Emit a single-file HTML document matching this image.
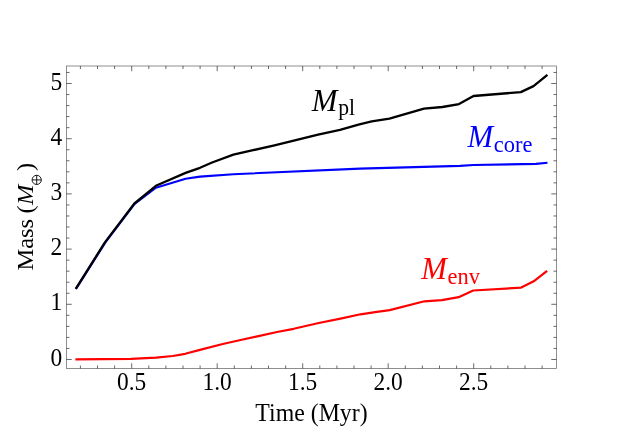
<!DOCTYPE html>
<html><head><meta charset="utf-8"><title>Mass vs Time</title>
<style>
html,body{margin:0;padding:0;background:#fff;}
body{width:623px;height:435px;overflow:hidden;font-family:"Liberation Serif",serif;}
svg{display:block;will-change:transform;}
svg text{font-family:"Liberation Serif",serif;}
</style></head><body>
<svg width="623" height="435" viewBox="0 0 623 435">
<rect width="623" height="435" fill="#fff"/>
<rect x="66.5" y="66.0" width="490.0" height="302.5" fill="none" stroke="#6a6a6a" stroke-width="0.75"/>
<path d="M80.40,368.5 v-3.0 M80.40,66.0 v3.0 M97.50,368.5 v-3.0 M97.50,66.0 v3.0 M114.60,368.5 v-3.0 M114.60,66.0 v3.0 M131.70,368.5 v-5.2 M131.70,66.0 v5.2 M148.80,368.5 v-3.0 M148.80,66.0 v3.0 M165.90,368.5 v-3.0 M165.90,66.0 v3.0 M183.00,368.5 v-3.0 M183.00,66.0 v3.0 M200.10,368.5 v-3.0 M200.10,66.0 v3.0 M217.20,368.5 v-5.2 M217.20,66.0 v5.2 M234.30,368.5 v-3.0 M234.30,66.0 v3.0 M251.40,368.5 v-3.0 M251.40,66.0 v3.0 M268.50,368.5 v-3.0 M268.50,66.0 v3.0 M285.60,368.5 v-3.0 M285.60,66.0 v3.0 M302.70,368.5 v-5.2 M302.70,66.0 v5.2 M319.80,368.5 v-3.0 M319.80,66.0 v3.0 M336.90,368.5 v-3.0 M336.90,66.0 v3.0 M354.00,368.5 v-3.0 M354.00,66.0 v3.0 M371.10,368.5 v-3.0 M371.10,66.0 v3.0 M388.20,368.5 v-5.2 M388.20,66.0 v5.2 M405.30,368.5 v-3.0 M405.30,66.0 v3.0 M422.40,368.5 v-3.0 M422.40,66.0 v3.0 M439.50,368.5 v-3.0 M439.50,66.0 v3.0 M456.60,368.5 v-3.0 M456.60,66.0 v3.0 M473.70,368.5 v-5.2 M473.70,66.0 v5.2 M490.80,368.5 v-3.0 M490.80,66.0 v3.0 M507.90,368.5 v-3.0 M507.90,66.0 v3.0 M525.00,368.5 v-3.0 M525.00,66.0 v3.0 M542.10,368.5 v-3.0 M542.10,66.0 v3.0 M66.5,359.50 h5.2 M556.5,359.50 h-5.2 M66.5,348.46 h3.0 M556.5,348.46 h-3.0 M66.5,337.42 h3.0 M556.5,337.42 h-3.0 M66.5,326.38 h3.0 M556.5,326.38 h-3.0 M66.5,315.34 h3.0 M556.5,315.34 h-3.0 M66.5,304.30 h5.2 M556.5,304.30 h-5.2 M66.5,293.26 h3.0 M556.5,293.26 h-3.0 M66.5,282.22 h3.0 M556.5,282.22 h-3.0 M66.5,271.18 h3.0 M556.5,271.18 h-3.0 M66.5,260.14 h3.0 M556.5,260.14 h-3.0 M66.5,249.10 h5.2 M556.5,249.10 h-5.2 M66.5,238.06 h3.0 M556.5,238.06 h-3.0 M66.5,227.02 h3.0 M556.5,227.02 h-3.0 M66.5,215.98 h3.0 M556.5,215.98 h-3.0 M66.5,204.94 h3.0 M556.5,204.94 h-3.0 M66.5,193.90 h5.2 M556.5,193.90 h-5.2 M66.5,182.86 h3.0 M556.5,182.86 h-3.0 M66.5,171.82 h3.0 M556.5,171.82 h-3.0 M66.5,160.78 h3.0 M556.5,160.78 h-3.0 M66.5,149.74 h3.0 M556.5,149.74 h-3.0 M66.5,138.70 h5.2 M556.5,138.70 h-5.2 M66.5,127.66 h3.0 M556.5,127.66 h-3.0 M66.5,116.62 h3.0 M556.5,116.62 h-3.0 M66.5,105.58 h3.0 M556.5,105.58 h-3.0 M66.5,94.54 h3.0 M556.5,94.54 h-3.0 M66.5,83.50 h5.2 M556.5,83.50 h-5.2 M66.5,72.46 h3.0 M556.5,72.46 h-3.0" stroke="#2a2a2a" stroke-width="0.7" fill="none"/>
<path d="M76.0,288.9 L105.4,242.4 L134.6,203.9 L155.9,187.7 L185.6,178.8 L200.0,176.6 L233.4,174.2 L360.0,168.6 L460.0,165.9 L473.5,165.0 L536.0,163.9 L547.5,162.8" stroke="#0000ff" stroke-width="2.1" fill="none" stroke-linejoin="round"/>
<path d="M75.7,288.9 L105.1,242.1 L134.4,203.5 L155.9,185.8 L185.6,172.9 L200.0,167.8 L212.1,162.5 L233.4,154.7 L252.0,150.4 L274.5,145.3 L318.1,134.7 L340.0,129.9 L359.4,124.3 L371.8,121.4 L389.4,118.6 L424.0,108.7 L442.4,107.0 L459.0,104.1 L473.5,96.0 L520.8,92.1 L533.5,86.1 L547.4,74.8" stroke="#000" stroke-width="2.3" fill="none" stroke-linejoin="round"/>
<path d="M75.4,359.3 L131.0,358.9 L156.0,357.7 L172.7,356.0 L185.2,353.8 L201.9,349.4 L222.8,344.0 L239.5,340.2 L256.2,336.6 L277.0,332.0 L293.7,328.8 L318.8,323.0 L341.7,318.4 L360.5,314.3 L375.1,312.2 L389.7,310.1 L424.4,301.3 L441.9,300.1 L458.6,297.2 L473.2,290.5 L521.2,287.6 L533.7,281.3 L547.1,270.9" stroke="#ff0000" stroke-width="2.2" fill="none" stroke-linejoin="round"/>
<text transform="translate(131.7,389.8) scale(0.9,1)" font-size="26.0" text-anchor="middle">0.5</text>
<text transform="translate(217.2,389.8) scale(0.9,1)" font-size="26.0" text-anchor="middle">1.0</text>
<text transform="translate(302.7,389.8) scale(0.9,1)" font-size="26.0" text-anchor="middle">1.5</text>
<text transform="translate(388.2,389.8) scale(0.9,1)" font-size="26.0" text-anchor="middle">2.0</text>
<text transform="translate(473.7,389.8) scale(0.9,1)" font-size="26.0" text-anchor="middle">2.5</text>
<text transform="translate(62.2,366) scale(0.9,1)" font-size="26.0" text-anchor="end">0</text>
<text transform="translate(62.2,310) scale(0.9,1)" font-size="26.0" text-anchor="end">1</text>
<text transform="translate(62.2,255) scale(0.9,1)" font-size="26.0" text-anchor="end">2</text>
<text transform="translate(62.2,200) scale(0.9,1)" font-size="26.0" text-anchor="end">3</text>
<text transform="translate(62.2,145) scale(0.9,1)" font-size="26.0" text-anchor="end">4</text>
<text transform="translate(62.2,90) scale(0.9,1)" font-size="26.0" text-anchor="end">5</text>
<text transform="translate(311.5,420.7) scale(0.985,1)" font-size="24.2" text-anchor="middle">Time (Myr)</text>
<text transform="translate(33.3,270.6) rotate(-90) scale(1.04,1)" font-size="23.5">Mass</text>
<text transform="translate(33.3,213.6) rotate(-90) scale(1.04,1)" font-size="23.5">(</text>
<text transform="translate(33.3,204.9) rotate(-90) scale(1.04,1)" font-size="23.5" font-style="italic">M</text>
<text transform="translate(33.3,170.9) rotate(-90) scale(1.04,1)" font-size="23.5">)</text>
<g stroke="#000" stroke-width="0.9" fill="none"><circle cx="36.7" cy="179.9" r="4.6"/><path d="M32.1,179.9 h9.2 M36.7,175.3 v9.2"/></g>
<text transform="translate(311.8,110.6) scale(0.962,1)" fill="#000" font-size="32.0" font-style="italic">M</text><text transform="translate(338.2,115.3) scale(0.96,1)" fill="#000" font-size="22.5">pl</text>
<text transform="translate(467.6,147.4) scale(0.962,1)" fill="#0000ff" font-size="32.0" font-style="italic">M</text><text transform="translate(493.8,152.2) scale(0.999,1)" fill="#0000ff" font-size="22.5">core</text>
<text transform="translate(421.2,278.9) scale(0.962,1)" fill="#ff0000" font-size="32.0" font-style="italic">M</text><text transform="translate(447.5,284.3) scale(0.999,1)" fill="#ff0000" font-size="22.5">env</text>
</svg>
</body></html>
